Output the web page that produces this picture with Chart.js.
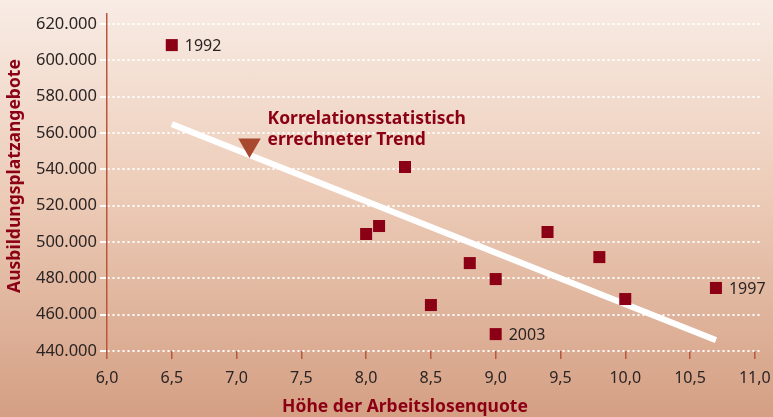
<!DOCTYPE html>
<html>
<head>
<meta charset="utf-8">
<script src="https://cdn.jsdelivr.net/npm/chart.js@4"></script>
<style>
  html, body { margin: 0; padding: 0; }
  body {
    width: 773px; height: 417px; overflow: hidden;
    background: linear-gradient(to bottom, #f8ece5 0%, #edcdb9 45%, #d49f83 100%);
  }
  #wrap { position: relative; width: 773px; height: 417px; }
</style>
</head>
<body>
<div id="wrap"><canvas id="grafico" width="773" height="417"></canvas></div>
<script>
// Arbeitslosenquote (x) und Ausbildungsplatzangebote (y)
const quoten = [6.5, 8.0, 8.1, 8.3, 8.5, 8.8, 9.0, 9.0, 9.4, 9.8, 10.0, 10.7];
const angebote = [608400, 504400, 508800, 541300, 465300, 488400, 479600, 449300, 505500, 491700, 468600, 474700];
const jahre = ['1992', '', '', '', '', '', '', '2003', '', '', '', '1997'];

// Trendlinie (Anfang und Ende)
const trendX = [6.5, 10.7];
const trendY = [564900, 446000];

// Markierung für die Beschriftung des Trends
const markerX = [7.1];
const markerY = [553400];
const trendText = ['Korrelationsstatistisch', 'errechneter Trend'];

const yTicks = [440000, 460000, 480000, 500000, 520000, 540000, 560000, 580000, 600000, 620000];
const xTicks = [6, 6.5, 7, 7.5, 8, 8.5, 9, 9.5, 10, 10.5, 11];

const rot = '#8c0015';
const textFarbe = '#2b2424';
const xMax = 11.04;

const fmtY = v => (v / 1000).toFixed(3);
const fmtX = v => xTicks.includes(v) ? v.toFixed(1).replace('.', ',') : '';

const beschriftung = {
  id: 'beschriftung',
  afterDatasetsDraw(chart) {
    const ctx = chart.ctx;
    const meta = chart.getDatasetMeta(2);
    ctx.save();
    ctx.font = '16px "Noto Sans"';
    ctx.fillStyle = textFarbe;
    ctx.textBaseline = 'middle';
    ctx.textAlign = 'left';
    meta.data.forEach((p, i) => {
      if (jahre[i]) ctx.fillText(jahre[i], p.x + 13, p.y + 1);
    });

    // Trend-Beschriftung
    const m = chart.getDatasetMeta(1).data[0];
    ctx.font = 'bold 17.5px "Noto Sans"';
    ctx.fillStyle = rot;
    ctx.fillText(trendText[0], m.x + 18, m.y - 26);
    ctx.fillText(trendText[1], m.x + 18, m.y - 5);

    // Achsentitel
    ctx.font = 'bold 17.5px "Noto Sans"';
    ctx.textAlign = 'center';
    ctx.fillText('Höhe der Arbeitslosenquote', 405, 407);
    ctx.translate(15, 176);
    ctx.rotate(-Math.PI / 2);
    ctx.fillText('Ausbildungsplatzangebote', 0, 0);
    ctx.restore();
  }
};

new Chart(document.getElementById('grafico'), {
  type: 'scatter',
  data: {
    datasets: [
      {
        type: 'line',
        data: trendX.map((x, i) => ({ x: x, y: trendY[i] })),
        borderColor: '#ffffff',
        borderWidth: 6,
        pointRadius: 0,
        order: 3
      },
      {
        data: markerX.map((x, i) => ({ x: x, y: markerY[i] })),
        pointStyle: 'triangle',
        rotation: 180,
        pointRadius: 13,
        backgroundColor: '#a8482f',
        borderWidth: 0,
        order: 2
      },
      {
        data: quoten.map((x, i) => ({ x: x, y: angebote[i] })),
        pointStyle: 'rect',
        pointRadius: 8.5,
        backgroundColor: rot,
        borderWidth: 0,
        order: 1
      }
    ]
  },
  options: {
    responsive: false,
    animation: false,
    layout: { padding: { top: 14, right: 0, left: 0, bottom: 0 } },
    plugins: { legend: { display: false }, tooltip: { enabled: false } },
    scales: {
      x: {
        type: 'linear',
        min: 6,
        max: xMax,
        // leeres Label am rechten Rand, damit die Fläche bis zum Rand reicht
        afterBuildTicks: s => { s.ticks = xTicks.concat([xMax]).map(v => ({ value: v })); },
        afterFit: s => { s.height = 66; },
        border: { display: false },
        grid: {
          drawOnChartArea: false, drawTicks: true, tickLength: 8, lineWidth: 1.5,
          color: c => (c.tick && xTicks.includes(c.tick.value)) ? '#b8573c' : 'rgba(0,0,0,0)'
        },
        ticks: {
          padding: 10,
          maxRotation: 0,
          autoSkip: false,
          color: textFarbe,
          font: { family: 'Noto Sans', size: 16 },
          callback: v => fmtX(v)
        }
      },
      y: {
        min: 440000,
        max: 625520,
        afterBuildTicks: s => { s.ticks = yTicks.map(v => ({ value: v })); },
        afterFit: s => { s.width = 107; },
        border: { display: true, color: '#b8573c', width: 1.5, dash: [2, 3] },
        grid: { color: '#ffffff', lineWidth: 2, tickLength: 7 },
        ticks: {
          padding: 3,
          color: textFarbe,
          font: { family: 'Noto Sans', size: 16.5 },
          callback: v => fmtY(v)
        }
      }
    }
  },
  plugins: [beschriftung]
});
</script>
</body>
</html>
